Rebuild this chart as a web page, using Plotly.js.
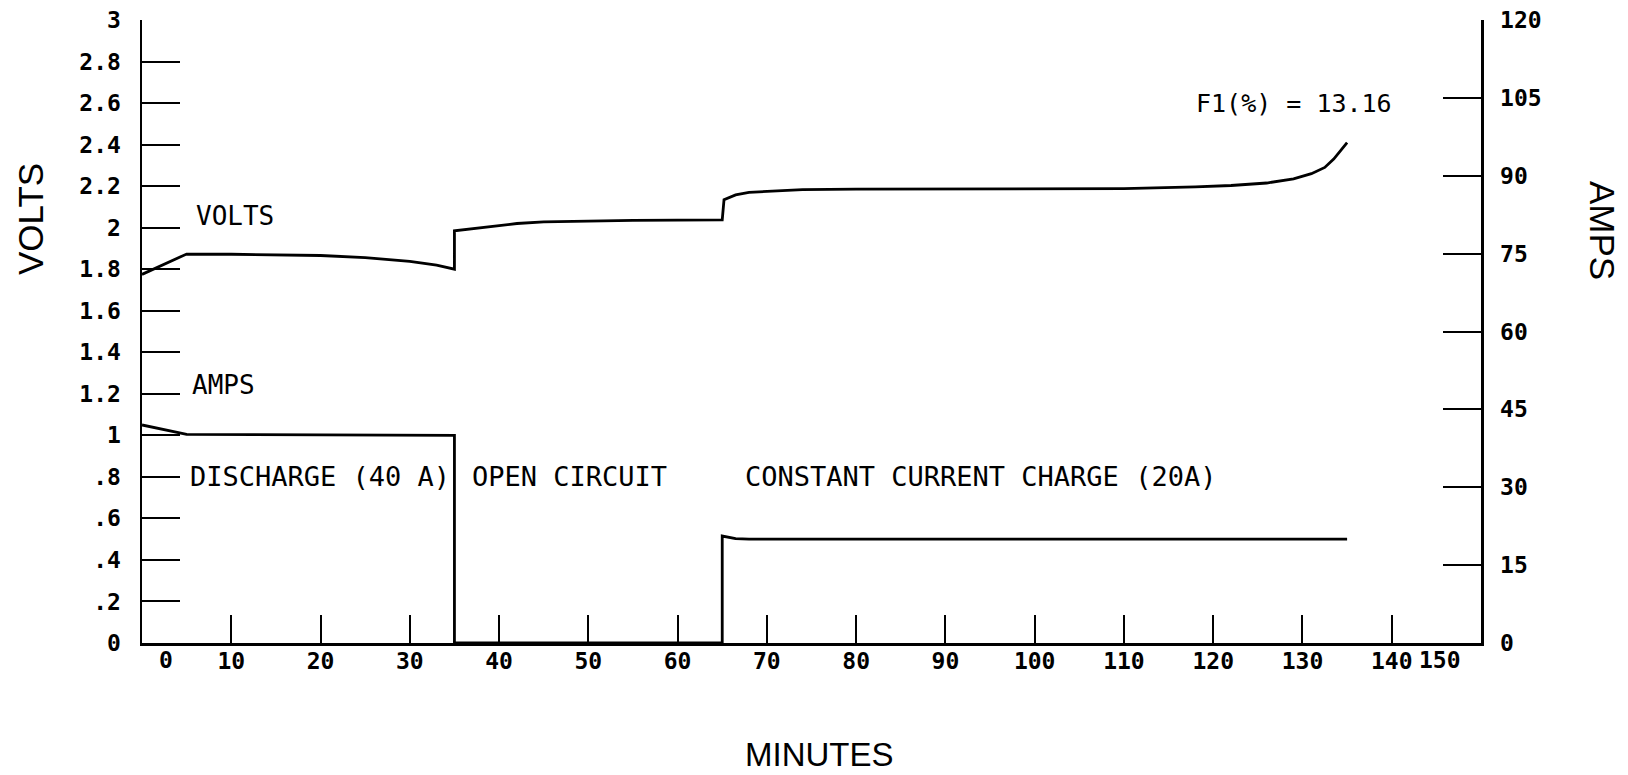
<!DOCTYPE html>
<html>
<head>
<meta charset="utf-8">
<script src="https://cdn.plot.ly/plotly-3.0.1.min.js"></script>
<style>html,body{margin:0;padding:0;background:#fff;}</style>
</head>
<body>
<div id="chart" style="width:1628px;height:775px;"></div>
<script>
// ---- data ----
const voltsMinutes = [0, 5, 10, 15, 20, 25, 30, 33, 35, 35, 38, 42, 45, 50, 55, 60, 65, 65.2, 66.5, 68, 70, 74, 80, 90, 100, 110, 118, 122, 126, 129, 131, 132.5, 133.5, 134.3, 135];
const voltsValues = [1.775, 1.873, 1.872, 1.870, 1.866, 1.856, 1.838, 1.82, 1.80, 1.985, 2.00, 2.02, 2.028, 2.033, 2.035, 2.036, 2.037, 2.135, 2.158, 2.170, 2.175, 2.183, 2.186, 2.186, 2.186, 2.188, 2.196, 2.203, 2.215, 2.235, 2.26, 2.29, 2.33, 2.37, 2.41];
const ampsMinutes = [0, 5, 35, 35, 65, 65, 66.5, 68, 135];
const ampsValues = [42, 40.2, 40, 0, 0, 20.6, 20.1, 20, 20];

const xTickVals = [0, 10, 20, 30, 40, 50, 60, 70, 80, 90, 100, 110, 120, 130, 140, 150];
const xTickText = ["", "10", "20", "30", "40", "50", "60", "70", "80", "90", "100", "110", "120", "130", "140", ""];
const xExtraLabels = ["0", "150"];
const xExtraPos = [2.7, 145.4];
const voltTickVals = [0, 0.2, 0.4, 0.6, 0.8, 1, 1.2, 1.4, 1.6, 1.8, 2, 2.2, 2.4, 2.6, 2.8, 3];
const voltTickText = ["0", ".2", ".4", ".6", ".8", "1", "1.2", "1.4", "1.6", "1.8", "2", "2.2", "2.4", "2.6", "2.8", "3"];
const ampTickVals = [0, 15, 30, 45, 60, 75, 90, 105, 120];
const ampTickText = ["0", "15", "30", "45", "60", "75", "90", "105", "120"];

const labels = [
  {text: "VOLTS", x: 5.8, y: 2.056, size: 26},
  {text: "AMPS", x: 5.4, y: 1.242, size: 26},
  {text: "DISCHARGE (40 A)", x: 5.2, y: 0.80, size: 27},
  {text: "OPEN CIRCUIT", x: 36.7, y: 0.80, size: 27},
  {text: "CONSTANT CURRENT CHARGE (20A)", x: 67.3, y: 0.80, size: 27},
  {text: "F1(%) = 13.16", x: 117.9, y: 2.60, size: 25}
];

// ---- chart ----
const mono = 'DejaVu Sans Mono, monospace';
const tickFont = {family: mono, size: 23, color: '#000', weight: 'bold'};
const titleFont = {family: 'Liberation Sans, Arial, sans-serif', size: 35, color: '#000'};

const traces = [
  {x: voltsMinutes, y: voltsValues, type: 'scatter', mode: 'lines', line: {color: '#000', width: 2.8}, yaxis: 'y', hoverinfo: 'skip'},
  {x: ampsMinutes, y: ampsValues, type: 'scatter', mode: 'lines', line: {color: '#000', width: 2.8}, yaxis: 'y2', hoverinfo: 'skip'}
];

const annotations = [];
labels.forEach(l => annotations.push({
  text: l.text, x: l.x, y: l.y, xref: 'x', yref: 'y', xanchor: 'left', yanchor: 'middle',
  showarrow: false, font: {family: mono, size: l.size, color: '#000'}
}));
xExtraLabels.forEach((t, i) => annotations.push({
  text: t, x: xExtraPos[i], y: 0, xref: 'x', yref: 'paper', xanchor: 'center', yanchor: 'top',
  yshift: -2, showarrow: false, font: tickFont
}));
annotations.push({text: 'VOLTS', xref: 'paper', yref: 'paper', x: -0.0829, y: 0.6806, textangle: -90,
  xanchor: 'center', yanchor: 'middle', showarrow: false, font: titleFont});
annotations.push({text: 'AMPS', xref: 'paper', yref: 'paper', x: 1.0904, y: 0.663, textangle: 90,
  xanchor: 'center', yanchor: 'middle', showarrow: false, font: titleFont});
annotations.push({text: 'MINUTES', xref: 'paper', yref: 'paper', x: 0.5063, y: -0.179,
  xanchor: 'center', yanchor: 'middle', showarrow: false, font: {family: 'Liberation Sans, Arial, sans-serif', size: 33, color: '#000'}});

const layout = {
  width: 1628, height: 775,
  margin: {l: 142, r: 147, t: 20, b: 132},
  paper_bgcolor: '#fff', plot_bgcolor: '#fff',
  showlegend: false,
  xaxis: {
    range: [0, 150], tickmode: 'array', tickvals: xTickVals, ticktext: xTickText,
    ticks: 'inside', ticklen: 28, tickwidth: 2, tickcolor: '#000',
    showline: true, linewidth: 2.5, linecolor: '#000', showgrid: false, zeroline: false,
    tickfont: tickFont, ticklabelstandoff: -4, fixedrange: true
  },
  yaxis: {
    range: [0, 3], tickmode: 'array', tickvals: voltTickVals, ticktext: voltTickText,
    ticks: 'inside', ticklen: 38, tickwidth: 2, tickcolor: '#000',
    showline: true, linewidth: 2.5, linecolor: '#000', showgrid: false, zeroline: false,
    tickfont: tickFont, ticklabelstandoff: 14, fixedrange: true
  },
  yaxis2: {
    overlaying: 'y', side: 'right', anchor: 'x',
    range: [0, 120], tickmode: 'array', tickvals: ampTickVals, ticktext: ampTickText,
    ticks: 'inside', ticklen: 38, tickwidth: 2, tickcolor: '#000',
    showline: true, linewidth: 2.5, linecolor: '#000', showgrid: false, zeroline: false,
    tickfont: tickFont, ticklabelstandoff: 12, fixedrange: true
  },
  annotations: annotations
};

Plotly.newPlot('chart', traces, layout, {displayModeBar: false, staticPlot: true});
</script>
</body>
</html>
